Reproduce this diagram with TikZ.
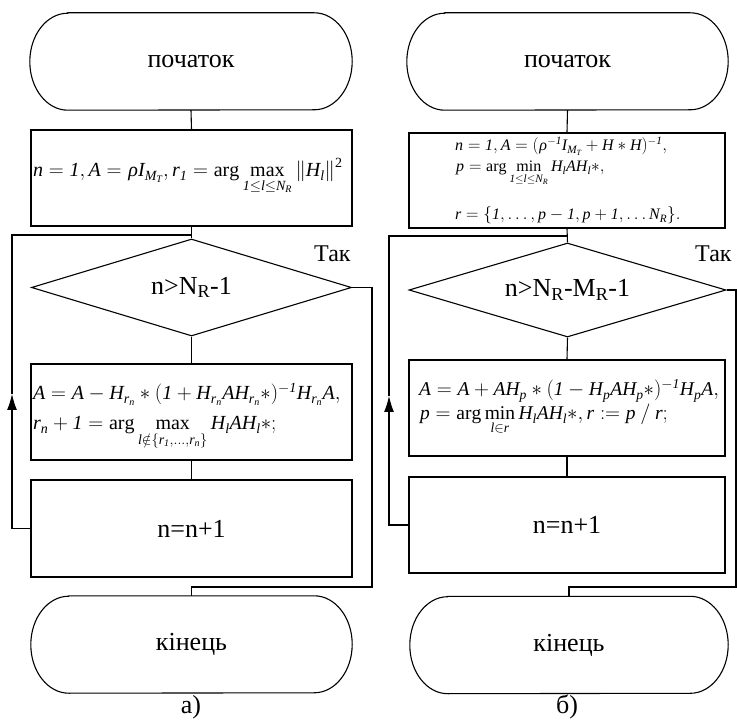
\documentclass[tikz,border=0pt]{standalone}
\usepackage{amsmath}
\usepackage{mathspec}
\setmainfont{Liberation Serif}
\setmathsfont(Digits,Latin,Greek){Liberation Serif}
\setmathrm{Liberation Serif}
\usetikzlibrary{shapes.geometric,arrows.meta}
\newcommand\one{\text{\itshape 1}}
\newcommand\drawTerminal[1]{%
  \draw[ln] ([xshift=38pt]#1.north west) -- ([xshift=-38pt]#1.north east)
    arc[start angle=90, end angle=-90, x radius=38pt, y radius=48.5pt]
    -- ([xshift=38pt]#1.south west)
    arc[start angle=270, end angle=90, x radius=38pt, y radius=48.5pt] -- cycle;}
\tikzset{
  ln/.style={line width=1.1pt},
  bigtext/.style={font=\fontsize{26}{30}\selectfont},
  proc/.style={draw, ln, rectangle, inner sep=0pt, bigtext},
  termbox/.style={rectangle, inner sep=0pt, bigtext},
  deci/.style={draw, ln, diamond, shape aspect=3.3, inner sep=0pt, bigtext},
  fml/.style={inner sep=0pt, font=\fontsize{20}{24}\selectfont},
  fmlr/.style={inner sep=0pt, font=\fontsize{19.5}{23}\selectfont},
  fmls/.style={inner sep=0pt, font=\fontsize{16}{19}\selectfont},
  yeslbl/.style={inner sep=0pt, anchor=base west, font=\fontsize{24}{28}\selectfont},
  caplbl/.style={inner sep=0pt, anchor=base, bigtext},
  flow/.style={ln},
  uparrow/.style={ln, -{Latex[length=16pt,width=10pt]}},
}
\begin{document}
\begin{tikzpicture}[x=1pt,y=1pt]
\useasboundingbox (0,0) rectangle (737,-727);
% ---------------- left (a)
\node[termbox, minimum width=322pt, minimum height=97pt] (Ls) at (191,-61.5) {початок};
\drawTerminal{Ls}
\node[proc, minimum width=321pt, minimum height=96pt] (Li) at (191.5,-178) {};
\node[fml, anchor=base west] (Lif) at (33,-177) {$n = \one, A = \rho I_{M_T}, r_\one = \arg\max\limits_{\one\le l\le N_R} \left\| H_l \right\|^2$};
\node[deci, minimum width=320pt, minimum height=97pt] (Ld) at (191.5,-287.5) {n>N\textsubscript{R}-1};
\node[proc, minimum width=321pt, minimum height=96pt] (Lb) at (191.5,-412) {};
\node[fml, anchor=base west] (Lb1) at (33,-400) {$A = A - H_{r_n} * (\one + H_{r_n} A H_{r_n} *)^{-\one} H_{r_n} A,$};
\node[fml, anchor=base west] (Lb2) at (33,-430) {$r_n + \one = \arg\max\limits_{l\notin\{r_\one,\ldots,r_n\}} H_l A H_l *;$};
\node[proc, minimum width=321pt, minimum height=97pt] (Ln) at (191.5,-528.5) {n=n+1};
\node[termbox, minimum width=321pt, minimum height=97pt] (Le) at (191.5,-644.5) {кінець};
\drawTerminal{Le}
\draw[flow] (Ls.south) -- (Li.north);
\draw[flow] (Li.south) -- (Ld.north);
\draw[flow] (Ld.south) -- (Lb.north);
\draw[flow] (Lb.south) -- (Ln.north);
\coordinate (Lj) at (191.5,-235);
\coordinate (Lc1) at (12,-528.5);
\coordinate (La1) at (12,-394);
\coordinate (Lc2) at (12,-235);
\draw[uparrow] (Ln.west) -- (Lc1) -- (La1);
\draw[flow] (La1) -- (Lc2) -- (Lj);
\coordinate (Lx1) at (372,-287.5);
\coordinate (Lx2) at (372,-587);
\draw[flow] (Ld.east) -- (Lx1) -- (Lx2) -| (Le.north);
\node[yeslbl] (Lyes) at (314,-262) {Так};
\node[caplbl] (La) at (191,-713) {а)};
% ---------------- right (b)
\node[termbox, minimum width=321pt, minimum height=97pt] (Rs) at (567.5,-61.5) {початок};
\drawTerminal{Rs}
\node[proc, minimum width=316pt, minimum height=95pt] (Ri) at (567,-180.5) {};
\node[fmls, anchor=base west] (Ri1) at (455,-151) {$n = \one, A = (\rho^{-\one} I_{M_T} + H * H)^{-\one},$};
\node[fmls, anchor=base west] (Ri2) at (456,-172) {$p = \arg\min\limits_{\one\le l\le N_R} H_l A H_l *,$};
\node[fmls, anchor=base west] (Ri3) at (455,-220) {$r = \{\one,\ldots, p-\one, p+\one,\ldots N_R\}.$};
\node[deci, minimum width=317pt, minimum height=94pt] (Rd) at (567.5,-290) {n>N\textsubscript{R}-M\textsubscript{R}-1};
\node[proc, minimum width=316pt, minimum height=96pt] (Rb) at (567,-408) {};
\node[fmlr, anchor=base west] (Rb1) at (419,-396) {$A = A + AH_p * (\one - H_p A H_p *)^{-\one} H_p A,$};
\node[fmlr, anchor=base west] (Rb2) at (420,-420) {$p = \arg\min\limits_{l\in r} H_l A H_l *, r := p \mathbin{/} r;$};
\node[proc, minimum width=316pt, minimum height=96pt] (Rn) at (567,-525) {n=n+1};
\node[termbox, minimum width=318pt, minimum height=97pt] (Re) at (569,-645) {кінець};
\drawTerminal{Re}
\draw[flow] (Rs.south) -- (Ri.north);
\draw[flow] (Ri.south) -- (Rd.north);
\draw[flow] (Rd.south) -- (Rb.north);
\draw[flow] (Rb.south) -- (Rn.north);
\coordinate (Rj) at (567,-236);
\coordinate (Rc1) at (389,-525);
\coordinate (Ra1) at (389,-396);
\coordinate (Rc2) at (389,-236);
\draw[uparrow] (Rn.west) -- (Rc1) -- (Ra1);
\draw[flow] (Ra1) -- (Rc2) -- (Rj);
\coordinate (Rx1) at (736,-290);
\coordinate (Rx2) at (736,-587);
\draw[flow] (Rd.east) -- (Rx1) -- (Rx2) -| (Re.north);
\node[yeslbl] (Ryes) at (695,-262) {Так};
\node[caplbl] (Rb0) at (567,-713) {б)};
\end{tikzpicture}
\end{document}
